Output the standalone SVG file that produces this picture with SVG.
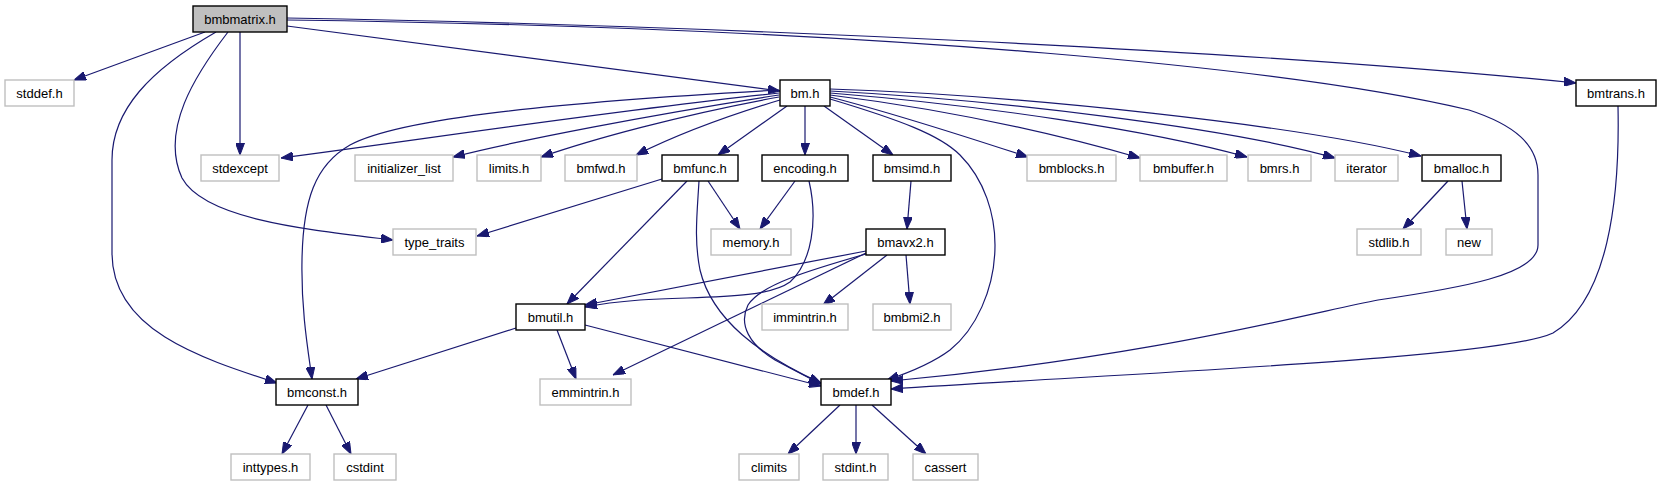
<svg xmlns="http://www.w3.org/2000/svg" width="1661" height="485" viewBox="0 0 1661 485">
<defs>
<marker id="ah" viewBox="0 0 12 9" refX="12" refY="4.5" markerWidth="12" markerHeight="9" orient="auto" markerUnits="userSpaceOnUse">
<path d="M0,0 L12,4.5 L0,9 z" fill="#191970" stroke="#191970" stroke-width="1"/>
</marker>
</defs>
<style>
.n rect{fill:#ffffff;stroke:#000000;stroke-width:1.4}
.g rect{fill:#ffffff;stroke:#bfbfbf;stroke-width:1.4}
.root rect{fill:#bfbfbf;stroke:#000000;stroke-width:1.4}
text{font-family:"Liberation Sans",Arial,Helvetica,sans-serif;font-size:13px;fill:#000000;text-anchor:middle}
#edges path{fill:none;stroke:#191970;stroke-width:1.2;marker-end:url(#ah)}
</style>
<rect x="0" y="0" width="1661" height="485" fill="#ffffff"/>
<g id="edges">
<path d="M205,32 L74,80"/>
<path d="M216,32 C150,70 112,110 112,160 L112,253 C112,330 200,358 277,383"/>
<path d="M228,32 C195,75 160,130 182,178 C205,220 310,230 393,240"/>
<path d="M240,32 L240,155"/>
<path d="M287,26 L780,91"/>
<path d="M287,18 C700,25 1250,50 1576,83"/>
<path d="M287,20 C900,28 1300,70 1469,110 C1515,125 1538,145 1538,175 L1538,245 C1538,275 1460,288 1378,300 C1310,313 1150,357 891,381"/>
<path d="M1618,106 C1620,200 1608,300 1553,333 C1500,358 1150,372 891,389"/>
<path d="M779,93 C600,112 420,140 281,158"/>
<path d="M779,90 C560,102 400,118 350,145 C315,165 303,200 302,260 C301,310 308,350 312,379"/>
<path d="M779,95 C650,115 520,140 453,157"/>
<path d="M779,97 C680,115 590,140 541,157"/>
<path d="M780,100 C720,118 670,138 636,155"/>
<path d="M787,106 L718,155"/>
<path d="M805,106 L805,155"/>
<path d="M824,106 L893,155"/>
<path d="M830,99 C900,120 940,135 960,155 C985,180 995,215 995,245 C995,290 975,330 950,350 C930,365 905,374 887,380"/>
<path d="M830,97 C900,115 970,138 1028,157"/>
<path d="M830,95 C950,110 1060,135 1140,158"/>
<path d="M830,93 C980,105 1150,130 1247,157"/>
<path d="M830,91 C1000,100 1230,128 1335,158"/>
<path d="M830,89 C1020,95 1300,125 1421,156"/>
<path d="M662,179 L477,236"/>
<path d="M708,181 L740,229"/>
<path d="M687,181 L567,304"/>
<path d="M699,181 C697,215 694,240 700,270 C712,320 760,355 821,383"/>
<path d="M795,181 L760,229"/>
<path d="M809,181 C818,220 812,262 790,282 C765,300 700,296 640,300 C615,302 600,304 585,307"/>
<path d="M911,181 L907,229"/>
<path d="M866,251 L585,305"/>
<path d="M866,253 L613,375"/>
<path d="M866,254 C810,270 760,285 748,305 C738,325 750,345 775,360 C790,368 805,376 821,384"/>
<path d="M887,255 L823,305"/>
<path d="M906,255 L910,304"/>
<path d="M516,328 L356,379"/>
<path d="M557,330 L576,379"/>
<path d="M585,325 L821,386"/>
<path d="M308,405 L282,454"/>
<path d="M326,405 L351,454"/>
<path d="M840,405 L788,454"/>
<path d="M856,405 L856,454"/>
<path d="M872,405 L926,454"/>
<path d="M1448,181 L1403,229"/>
<path d="M1462,181 L1467,229"/>
</g>
<g id="bmbmatrix_h" class="root"><rect x="193" y="6" width="94" height="26"/><text x="240" y="23.5">bmbmatrix.h</text></g>
<g id="stddef_h" class="g"><rect x="5" y="80" width="69" height="26"/><text x="39.5" y="97.5">stddef.h</text></g>
<g id="bm_h" class="n"><rect x="780" y="80" width="50" height="26"/><text x="805" y="97.5">bm.h</text></g>
<g id="bmtrans_h" class="n"><rect x="1576" y="80" width="80" height="26"/><text x="1616" y="97.5">bmtrans.h</text></g>
<g id="stdexcept" class="g"><rect x="201" y="155" width="78" height="26"/><text x="240" y="172.5">stdexcept</text></g>
<g id="initializer_list" class="g"><rect x="355" y="155" width="98" height="26"/><text x="404" y="172.5">initializer_list</text></g>
<g id="limits_h" class="g"><rect x="477" y="155" width="64" height="26"/><text x="509" y="172.5">limits.h</text></g>
<g id="bmfwd_h" class="g"><rect x="565" y="155" width="72" height="26"/><text x="601" y="172.5">bmfwd.h</text></g>
<g id="bmfunc_h" class="n"><rect x="662" y="155" width="76" height="26"/><text x="700" y="172.5">bmfunc.h</text></g>
<g id="encoding_h" class="n"><rect x="762" y="155" width="86" height="26"/><text x="805" y="172.5">encoding.h</text></g>
<g id="bmsimd_h" class="n"><rect x="873" y="155" width="78" height="26"/><text x="912" y="172.5">bmsimd.h</text></g>
<g id="bmblocks_h" class="g"><rect x="1027" y="155" width="89" height="26"/><text x="1071.5" y="172.5">bmblocks.h</text></g>
<g id="bmbuffer_h" class="g"><rect x="1140" y="155" width="87" height="26"/><text x="1183.5" y="172.5">bmbuffer.h</text></g>
<g id="bmrs_h" class="g"><rect x="1248" y="155" width="63" height="26"/><text x="1279.5" y="172.5">bmrs.h</text></g>
<g id="iterator" class="g"><rect x="1335" y="155" width="63" height="26"/><text x="1366.5" y="172.5">iterator</text></g>
<g id="bmalloc_h" class="n"><rect x="1422" y="155" width="79" height="26"/><text x="1461.5" y="172.5">bmalloc.h</text></g>
<g id="type_traits" class="g"><rect x="393" y="229" width="83" height="26"/><text x="434.5" y="246.5">type_traits</text></g>
<g id="memory_h" class="g"><rect x="711" y="229" width="80" height="26"/><text x="751" y="246.5">memory.h</text></g>
<g id="bmavx2_h" class="n"><rect x="866" y="229" width="79" height="26"/><text x="905.5" y="246.5">bmavx2.h</text></g>
<g id="stdlib_h" class="g"><rect x="1357" y="229" width="64" height="26"/><text x="1389" y="246.5">stdlib.h</text></g>
<g id="new" class="g"><rect x="1446" y="229" width="46" height="26"/><text x="1469" y="246.5">new</text></g>
<g id="bmutil_h" class="n"><rect x="516" y="304" width="69" height="26"/><text x="550.5" y="321.5">bmutil.h</text></g>
<g id="immintrin_h" class="g"><rect x="762" y="304" width="86" height="26"/><text x="805" y="321.5">immintrin.h</text></g>
<g id="bmbmi2_h" class="g"><rect x="873" y="304" width="78" height="26"/><text x="912" y="321.5">bmbmi2.h</text></g>
<g id="bmconst_h" class="n"><rect x="276" y="379" width="82" height="26"/><text x="317" y="396.5">bmconst.h</text></g>
<g id="emmintrin_h" class="g"><rect x="540" y="379" width="91" height="26"/><text x="585.5" y="396.5">emmintrin.h</text></g>
<g id="bmdef_h" class="n"><rect x="821" y="379" width="70" height="26"/><text x="856" y="396.5">bmdef.h</text></g>
<g id="inttypes_h" class="g"><rect x="231" y="454" width="79" height="26"/><text x="270.5" y="471.5">inttypes.h</text></g>
<g id="cstdint" class="g"><rect x="334" y="454" width="62" height="26"/><text x="365" y="471.5">cstdint</text></g>
<g id="climits" class="g"><rect x="739" y="454" width="60" height="26"/><text x="769" y="471.5">climits</text></g>
<g id="stdint_h" class="g"><rect x="823" y="454" width="65" height="26"/><text x="855.5" y="471.5">stdint.h</text></g>
<g id="cassert" class="g"><rect x="913" y="454" width="65" height="26"/><text x="945.5" y="471.5">cassert</text></g>
</svg>
